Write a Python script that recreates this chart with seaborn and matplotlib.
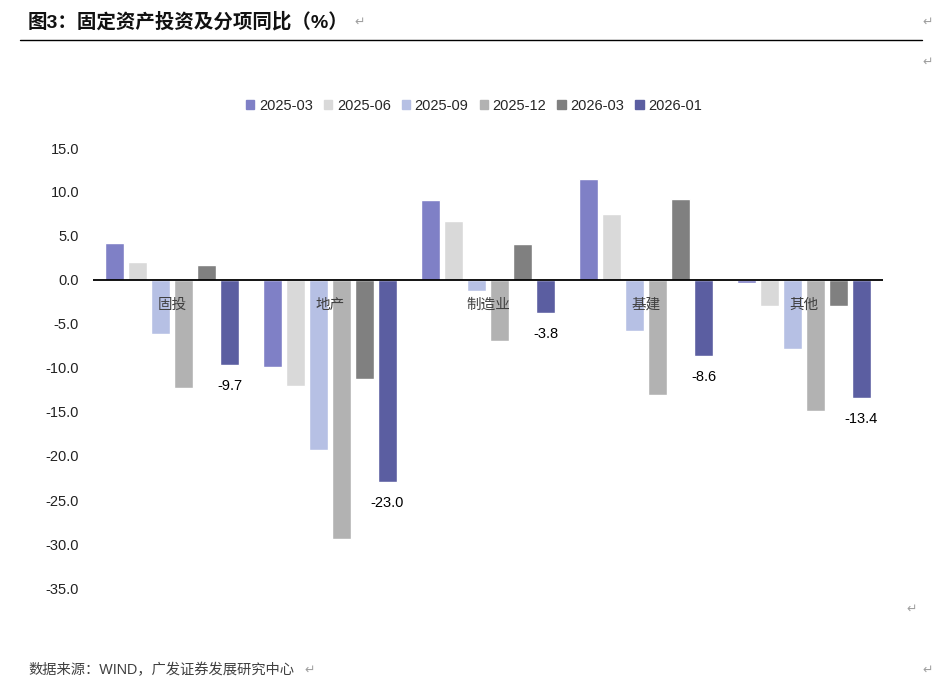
import numpy as np
import pandas as pd
import matplotlib
matplotlib.use('Agg')
import matplotlib.pyplot as plt
import seaborn as sns

# --- data ---
categories = ['固投', '地产', '制造业', '基建', '其他']
periods = ['2025-03', '2025-06', '2025-09', '2025-12', '2026-03', '2026-01']
v_2025_03 = [4.2, -9.9, 9.1, 11.5, -0.3]
v_2025_06 = [2.1, -12.1, 6.7, 7.5, -3.0]
v_2025_09 = [-6.1, -19.3, -1.2, -5.8, -7.8]
v_2025_12 = [-12.3, -29.4, -6.9, -13.1, -14.9]
v_2026_03 = [1.7, -11.2, 4.1, 9.2, -2.9]
v_2026_01 = [-9.7, -23.0, -3.8, -8.6, -13.4]

colors = ['#7F80C6', '#D9D9D9', '#B6C0E4', '#B2B2B2', '#808080', '#5B5EA1']

series = [v_2025_03, v_2025_06, v_2025_09, v_2025_12, v_2026_03, v_2026_01]
rows = []
for p, vals in zip(periods, series):
    for c, v in zip(categories, vals):
        rows.append({'cat': c, 'period': p, 'value': v})
df = pd.DataFrame(rows)

sns.set_theme(style='white')
plt.rcParams['font.family'] = ['Liberation Sans', 'Noto Sans CJK SC', 'DejaVu Sans']
plt.rcParams['axes.unicode_minus'] = False

fig = plt.figure(figsize=(9.43, 6.96), dpi=100)
ax = fig.add_axes([93 / 943, 1 - 588 / 696, 790 / 943, 440 / 696])

sns.barplot(data=df, x='cat', y='value', hue='period', order=categories,
            hue_order=periods, palette=colors, width=0.873, gap=0.14,
            saturation=1, ax=ax, legend=False)

ax.set_ylim(-35, 15)
ax.set_xlim(-0.5, len(categories) - 0.5)
ax.set_yticks(np.arange(-35, 16, 5))
ax.set_yticklabels([f'{t:.1f}' for t in np.arange(-35, 16, 5)], fontsize=10.5, color='#222222')
ax.tick_params(axis='y', length=0, pad=10)
ax.set_xticks([])
ax.set_xlabel('')
ax.set_ylabel('')
for s in ax.spines.values():
    s.set_visible(False)
ax.axhline(0, color='black', lw=1.3, zorder=3)

# category labels just below zero line, over the bars
for i, c in enumerate(categories):
    ax.text(i, -2.8, c, ha='center', va='center', fontsize=10.5, color='#404040', zorder=5)

# data labels for last series
last = ax.containers[-1]
for bar, v in zip(last, v_2026_01):
    ax.annotate(f'{v:.1f}', (bar.get_x() + bar.get_width() / 2, v), xytext=(0, -15),
                textcoords='offset points', ha='center', va='center', fontsize=10.5,
                color='black')

# legend
handles = [plt.Rectangle((0, 0), 1, 1, color=col) for col in colors]
fig.legend(handles, periods, loc='center', bbox_to_anchor=(474 / 943, 1 - 106 / 696),
           ncol=6, frameon=False, fontsize=10.5, handlelength=0.6, handleheight=0.6,
           handletextpad=0.3, columnspacing=0.75)

# title, rule, source
fig.text(28 / 943, 1 - 22 / 696, '图3：固定资产投资及分项同比（%）', fontsize=14, fontweight='bold',
         ha='left', va='center', color='#111111')
fig.add_artist(plt.Line2D([20 / 943, 922 / 943], [1 - 40 / 696, 1 - 40 / 696], color='black', lw=1))
fig.text(28 / 943, 1 - 670 / 696, '数据来源：WIND，广发证券发展研究中心', fontsize=10.3, ha='left',
         va='center', color='#404040')

# paragraph marks
for x, y in [(360, 22), (928, 22), (928, 62), (912, 609), (310, 670), (928, 670)]:
    fig.text(x / 943, 1 - y / 696, '↵', fontsize=9, color='#A0A0A0', ha='center', va='center',
             family='DejaVu Sans')

fig.savefig('out.png', dpi=100)
